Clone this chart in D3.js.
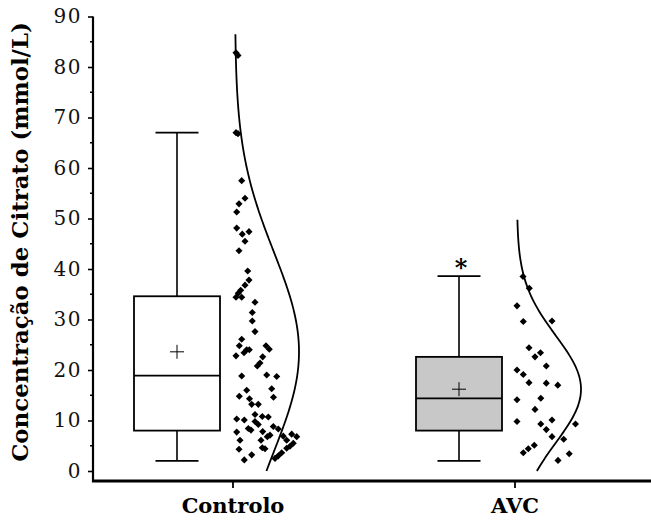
<!DOCTYPE html>
<html>
<head>
<meta charset="utf-8">
<script src="https://cdn.jsdelivr.net/npm/d3@7"></script>
<style>
  html, body { margin: 0; padding: 0; background: #fff; }
  svg { display: block; }
</style>
</head>
<body>
<svg id="chart" width="651" height="526"></svg>
<script>
// Groups and box-plot summary statistics (mmol/L)
const categories  = ["Controlo", "AVC"];
const whiskerLow  = [2.0, 2.0];
const q1          = [8.0, 8.0];
const median      = [18.9, 14.4];
const q3          = [34.6, 22.6];
const whiskerHigh = [67.0, 38.6];
const means       = [23.6, 16.2];
const boxFill     = ["#ffffff", "#c8c8c8"];
const significant = [false, true];

// Normal curve drawn beside each group
const curveSD     = [19.8, 10.6];
const curveTop    = [86.7, 49.8];
const curveBottom = [0, 0];

// Individual observations and their horizontal jitter (px to the right of the group tick)
const controloValues = [82.8, 82.3, 67.0, 66.8, 57.5, 54.0, 52.9, 51.3, 48.1, 46.9,
  47.4, 45.5, 43.6, 39.6, 37.8, 36.8, 35.8, 35.2, 34.4, 34.4,
  33.4, 31.4, 29.7, 27.6, 26.1, 24.8, 24.0, 23.4, 24.0, 22.8,
  24.8, 24.1, 22.6, 21.4, 20.8, 18.8, 19.0, 18.7, 16.0, 16.3,
  14.8, 14.3, 14.6, 13.2, 13.2, 11.2, 10.8, 10.7, 10.3, 10.1,
  9.8, 9.2, 8.4, 8.1, 8.8, 8.3, 7.7, 6.9, 7.3, 6.8,
  6.8, 7.1, 6.1, 4.9, 4.5, 6.1, 6.1, 4.6, 4.4, 4.3,
  3.2, 2.2, 3.6, 3.0, 2.5, 5.5, 7.8];
const controloJitter = [3, 5, 3, 5, 8.7, 12, 6, 3.7, 3.7, 9.3,
  16, 12, 6, 14.7, 16, 12, 7.7, 5.3, 3, 8.7,
  22, 19.3, 19.3, 22, 8.7, 6.3, 13.7, 11, 16.3, 3,
  33, 36.3, 29.7, 27, 24.3, 8.7, 33.7, 43.7, 13.7, 38.7,
  6.3, 16.5, 40.5, 18.7, 25.3, 22, 29.3, 35.3, 3.7, 11.3,
  22, 25.3, 15.3, 18, 40.3, 45.3, 3.7, 50.3, 58.7, 63.7,
  34.3, 37, 53.7, 57, 53.7, 7, 28, 29.3, 32, 6,
  18.7, 11.3, 48.7, 45.3, 42, 60.3, 29.7];

const avcValues = [38.5, 36.2, 32.7, 29.6, 29.7, 24.4, 23.4, 22.6, 20.8, 20.0,
  19.1, 17.5, 17.4, 17.0, 14.1, 14.4, 12.2, 9.8, 9.3, 10.1,
  8.2, 6.8, 6.3, 9.3, 3.6, 4.4, 5.1, 2.1, 3.4];
const avcJitter = [8, 14.3, 2, 8.3, 37, 14, 25.5, 20, 31.3, 2,
  8.3, 14, 31.3, 42.8, 2, 25.8, 20, 2, 25.8, 37,
  31.3, 37, 48.7, 60.5, 8.3, 13.3, 19.3, 43, 54.2];

const pointValues = [controloValues, avcValues];
const pointJitter = [controloJitter, avcJitter];

const yMajorTicks = [0, 10, 20, 30, 40, 50, 60, 70, 80, 90];
const yMinorTicks = [5, 15, 25, 35, 45, 55, 65, 75, 85];

const yTitle = "Concentração de Citrato (mmol/L)";

// ---- layout ----
const svg = d3.select("#chart");
const serif = "'DejaVu Serif', 'Liberation Serif', serif";

const x = d3.scaleBand().domain(categories).range([92, 656]).padding(0);
const y = d3.scaleLinear().domain([0, 90]).range([471, 16.5]);
const center = c => x(c) + x.bandwidth() / 2;

const boxOffset = -56;     // box sits left of the group tick
const boxHalf = 43;
const capHalf = 21.5;
const curveOffset = 2;     // curve baseline right of the tick
const curveWidth = 64;     // peak width of each curve

const g = svg.append("g");

// Box plots
categories.forEach((c, i) => {
  const cx = center(c) + boxOffset;
  const bg = g.append("g");
  // whiskers
  bg.append("line").attr("x1", cx).attr("x2", cx)
    .attr("y1", y(q3[i])).attr("y2", y(whiskerHigh[i]))
    .attr("stroke", "#000").attr("stroke-width", 1.6);
  bg.append("line").attr("x1", cx).attr("x2", cx)
    .attr("y1", y(q1[i])).attr("y2", y(whiskerLow[i]))
    .attr("stroke", "#000").attr("stroke-width", 1.6);
  [whiskerHigh[i], whiskerLow[i]].forEach(v => {
    bg.append("line").attr("x1", cx - capHalf).attr("x2", cx + capHalf)
      .attr("y1", y(v)).attr("y2", y(v))
      .attr("stroke", "#000").attr("stroke-width", 1.8);
  });
  // box
  bg.append("rect")
    .attr("x", cx - boxHalf).attr("width", boxHalf * 2)
    .attr("y", y(q3[i])).attr("height", y(q1[i]) - y(q3[i]))
    .attr("fill", boxFill[i]).attr("stroke", "#000").attr("stroke-width", 1.8);
  // median
  bg.append("line").attr("x1", cx - boxHalf).attr("x2", cx + boxHalf)
    .attr("y1", y(median[i])).attr("y2", y(median[i]))
    .attr("stroke", "#000").attr("stroke-width", 1.8);
  // mean marker
  const my = y(means[i]);
  bg.append("path")
    .attr("d", `M${cx - 7},${my}H${cx + 7}M${cx},${my - 7}V${my + 7}`)
    .attr("stroke", "#000").attr("stroke-width", 1).attr("fill", "none");
  // significance mark
  if (significant[i]) {
    bg.append("text").attr("x", cx + 2).attr("y", y(whiskerHigh[i]))
      .attr("text-anchor", "middle")
      .attr("font-family", serif).attr("font-weight", "bold")
      .attr("font-size", 24).text("*");
  }
});

// Normal curves
categories.forEach((c, i) => {
  const base = center(c) + curveOffset;
  const vals = d3.range(curveBottom[i], curveTop[i] + 0.001, 0.25);
  const dens = v => Math.exp(-0.5 * Math.pow((v - means[i]) / curveSD[i], 2));
  const line = d3.line()
    .x(v => base + curveWidth * dens(v))
    .y(v => y(v))
    .curve(d3.curveBasis);
  g.append("path").datum(vals).attr("d", line)
    .attr("fill", "none").attr("stroke", "#000").attr("stroke-width", 1.8);
});

// Individual points (diamonds)
const diamond = d3.symbol().type(d3.symbolSquare).size(25);
categories.forEach((c, i) => {
  const base = center(c);
  g.append("g").selectAll("path")
    .data(pointValues[i].map((v, k) => ({ v, j: pointJitter[i][k] })))
    .join("path")
    .attr("d", diamond)
    .attr("transform", d => `translate(${base + d.j},${y(d.v)}) rotate(45)`)
    .attr("fill", "#000");
});

// Y axis
const yAxis = svg.append("g").attr("transform", "translate(93,0)");
yAxis.call(d3.axisLeft(y).tickValues(yMajorTicks).tickSize(5).tickPadding(6).tickFormat(d3.format("d")));
yAxis.append("g").selectAll("line").data(yMinorTicks).join("line")
  .attr("x1", 0).attr("x2", -3).attr("y1", d => y(d)).attr("y2", d => y(d))
  .attr("stroke", "#000").attr("stroke-width", 1.5);
yAxis.select(".domain").attr("d", `M0,${y(90)}V482`).attr("stroke-width", 2.2);
yAxis.selectAll(".tick line").attr("stroke-width", 1.6);
yAxis.selectAll(".tick text")
  .attr("font-family", serif).attr("font-size", 20)
  .attr("letter-spacing", 1.5).attr("fill", "#111");

// X axis
const xAxis = svg.append("g").attr("transform", "translate(0,481)");
xAxis.call(d3.axisBottom(x).tickSize(7).tickPadding(10));
xAxis.select(".domain").attr("d", "M92,0H651").attr("stroke-width", 2.8);
xAxis.selectAll(".tick line").attr("stroke-width", 1.8);
xAxis.selectAll(".tick text")
  .attr("font-family", serif).attr("font-weight", "bold")
  .attr("font-size", 21).attr("fill", "#000");

// Y axis title, sized to span the axis height
const title = svg.append("text")
  .attr("font-family", serif).attr("font-weight", "bold")
  .attr("font-size", 20).attr("text-anchor", "middle")
  .attr("transform", "translate(28,242) rotate(-90)")
  .text(yTitle);
const len = title.node().getComputedTextLength();
title.attr("font-size", 20 * 440 / len);
</script>
</body>
</html>
